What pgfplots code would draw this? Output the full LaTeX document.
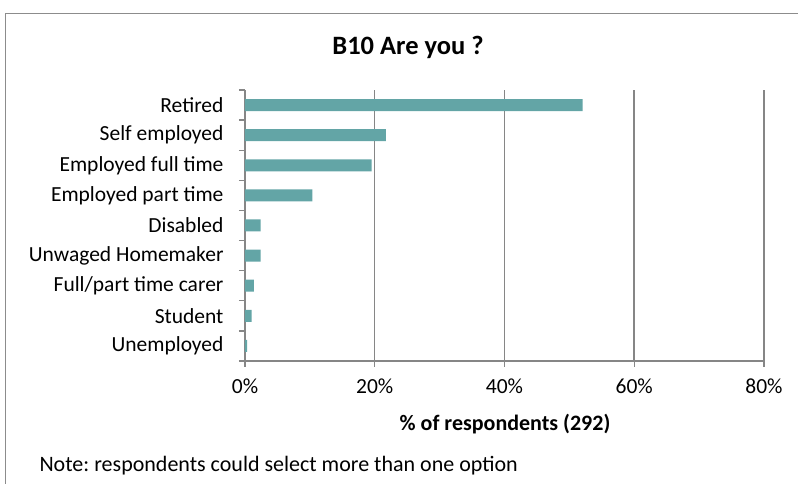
\documentclass[border=0pt]{standalone}
\usepackage{pgfplots}
\pgfplotsset{compat=1.18}
\usepackage{fontspec}
\setmainfont{Carlito}
\frenchspacing

\definecolor{barteal}{RGB}{99,165,166}
\definecolor{gridgray}{RGB}{134,134,134}
\definecolor{framegray}{RGB}{140,140,140}

\begin{document}
\begin{tikzpicture}[x=1pt,y=1pt]
\useasboundingbox (0,0) rectangle (798,484);
% chart frame (runs off the right and bottom edges)
\draw[framegray, line width=1.3pt] (5.5,-20) rectangle (830,470.5);

\node[font=\fontsize{26.5}{30}\selectfont\bfseries] at (408,437) {B10 Are you ?};

\begin{axis}[
  at={(245pt,123pt)}, anchor=south west,
  scale only axis, width=519pt, height=271pt,
  xbar, bar width=12pt,
  xmin=0, xmax=80, ymin=-0.5, ymax=8.5,
  axis lines*=left,
  axis line style={gridgray, line width=1.3pt},
  xtick={0,20,40,60,80},
  xticklabels={0\%,20\%,40\%,60\%,80\%},
  xmajorgrids,
  grid style={gridgray, line width=1.5pt},
  ytick={-0.5,0.5,...,8.5},
  y tick label as interval,
  yticklabels={Unemployed,Student,Full/part time carer,Unwaged Homemaker,Disabled,Employed part time,Employed full time,Self employed,Retired},
  tick align=outside,
  major tick length=6pt,
  tick style={gridgray, line width=1.3pt},
  ticklabel style={font=\fontsize{21.5}{24}\selectfont},
  xticklabel style={yshift=-8pt},
  yticklabel style={xshift=-12pt},
]
\addplot[fill=barteal, draw=none] coordinates {
  (0.34,0) (1.03,1) (1.37,2) (2.40,3) (2.40,4) (10.4,5) (19.5,6) (21.7,7) (52.05,8)
};
\end{axis}

\node[font=\fontsize{22}{26}\selectfont\bfseries] at (505,60) {\% of respondents (292)};
\node[font=\fontsize{22}{26}\selectfont, anchor=west] at (36,18) {Note: respondents could select more than one option};
\end{tikzpicture}
\end{document}
